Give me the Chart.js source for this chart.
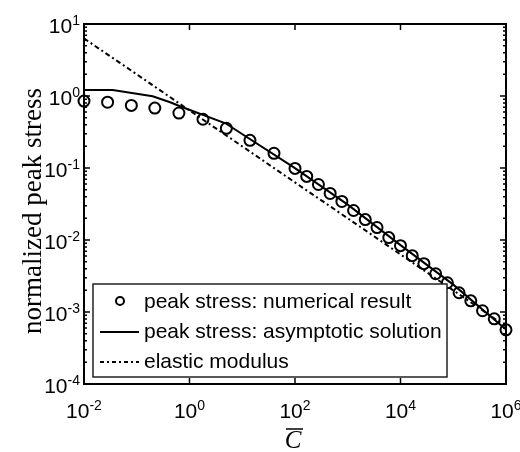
<!DOCTYPE html>
<html>
<head>
<meta charset="utf-8">
<script src="https://cdn.jsdelivr.net/npm/chart.js@4.4.1/dist/chart.umd.min.js"></script>
<style>
  html, body { margin: 0; padding: 0; background: #fff; }
</style>
</head>
<body>
<canvas id="chart" width="520" height="452"></canvas>
<script>
// numerical result (circles)
const cNumerical = [0.01, 0.028, 0.079, 0.22, 0.63, 1.8, 5.0, 14, 40,
  100, 167, 278, 464, 774, 1290, 2150, 3590, 5990,
  10000, 16700, 27800, 46400, 77400, 129000, 215000, 359000, 599000, 1000000];
const stressNumerical = [0.85, 0.82, 0.74, 0.68, 0.58, 0.475, 0.356, 0.242, 0.160,
  0.0987, 0.0764, 0.059, 0.0443, 0.0343, 0.0257, 0.0192, 0.0149, 0.0108,
  0.00835, 0.00606, 0.00469, 0.0034, 0.00255, 0.00185, 0.00143, 0.00104, 0.000804, 0.000565];

// asymptotic solution (solid line)
const cAsymptotic = [0.01, 0.035, 0.2, 0.43, 0.66, 4.8, 95, 1000, 10000, 100000, 1000000];
const stressAsymptotic = [1.21, 1.21, 0.99, 0.82, 0.72, 0.418, 0.102, 0.031, 0.0085, 0.0024, 0.00057];

// elastic modulus (dash-dot line)
const cElastic = [0.01, 0.1, 1, 10, 100, 1000, 10000, 100000, 1000000];
const stressElastic = [6.3, 2.0, 0.63, 0.2, 0.063, 0.02, 0.0063, 0.002, 0.00063];

const xTickExp = [-2, 0, 2, 4, 6];
const yTickExp = [-4, -3, -2, -1, 0, 1];

const legendLabels = ["peak stress: numerical result", "peak stress: asymptotic solution", "elastic modulus"];

const pts = (xs, ys) => xs.map((x, i) => ({ x: x, y: ys[i] }));

function drawPow(ctx, exp, x, base, align) {
  ctx.font = "21px 'Liberation Sans', Arial, sans-serif";
  const w1 = ctx.measureText("10").width;
  ctx.font = "14px 'Liberation Sans', Arial, sans-serif";
  const sup = String(exp);
  const w2 = ctx.measureText(sup).width;
  let start = align === "center" ? x - (w1 + w2) / 2 : x - (w1 + w2);
  ctx.textAlign = "left";
  ctx.textBaseline = "alphabetic";
  ctx.font = "21px 'Liberation Sans', Arial, sans-serif";
  ctx.fillText("10", start, base);
  ctx.font = "14px 'Liberation Sans', Arial, sans-serif";
  ctx.fillText(sup, start + w1, base - 8);
}

const axesPlugin = {
  id: "matlabAxes",
  afterDraw(chart) {
    const ctx = chart.ctx;
    const a = chart.chartArea;
    const xs = chart.scales.x, ys = chart.scales.y;
    ctx.save();
    ctx.fillStyle = "#000";
    ctx.strokeStyle = "#000";

    // ticks
    ctx.lineWidth = 1.5;
    ctx.beginPath();
    xTickExp.forEach(e => {
      const px = xs.getPixelForValue(Math.pow(10, e));
      ctx.moveTo(px, a.bottom); ctx.lineTo(px, a.bottom - 6);
      ctx.moveTo(px, a.top); ctx.lineTo(px, a.top + 6);
    });
    yTickExp.forEach(e => {
      const py = ys.getPixelForValue(Math.pow(10, e));
      ctx.moveTo(a.left, py); ctx.lineTo(a.left + 6, py);
      ctx.moveTo(a.right, py); ctx.lineTo(a.right - 6, py);
      if (e < 1) {
        for (let m = 2; m <= 9; m++) {
          const pm = ys.getPixelForValue(m * Math.pow(10, e));
          ctx.moveTo(a.left, pm); ctx.lineTo(a.left + 3, pm);
          ctx.moveTo(a.right, pm); ctx.lineTo(a.right - 3, pm);
        }
      }
    });
    ctx.stroke();

    // frame
    ctx.lineWidth = 2;
    ctx.strokeRect(a.left, a.top, a.right - a.left, a.bottom - a.top);

    // tick labels
    xTickExp.forEach(e => drawPow(ctx, e, xs.getPixelForValue(Math.pow(10, e)), a.bottom + 34, "center"));
    yTickExp.forEach(e => drawPow(ctx, e, a.left - 4, ys.getPixelForValue(Math.pow(10, e)) + 9, "right"));

    // y title
    ctx.save();
    ctx.translate(34, 211);
    ctx.rotate(-Math.PI / 2);
    ctx.font = "27px 'Liberation Serif', 'Times New Roman', serif";
    ctx.textAlign = "center";
    ctx.textBaseline = "middle";
    ctx.fillText("normalized peak stress", 0, 0);
    ctx.restore();

    // x title: C with overbar
    ctx.font = "italic 25px 'Liberation Serif', 'Times New Roman', serif";
    ctx.textAlign = "center";
    ctx.textBaseline = "alphabetic";
    ctx.fillText("C", 293, 448);
    ctx.lineWidth = 1.5;
    ctx.beginPath();
    ctx.moveTo(286, 429); ctx.lineTo(303, 429);
    ctx.stroke();

    // legend
    const L = { x: 93, y: 284, w: 354, h: 93 };
    ctx.fillStyle = "#fff";
    ctx.fillRect(L.x, L.y, L.w, L.h);
    ctx.strokeStyle = "#222";
    ctx.lineWidth = 1.5;
    ctx.strokeRect(L.x, L.y, L.w, L.h);
    ctx.strokeStyle = "#000";
    ctx.fillStyle = "#000";
    const rows = [302, 332, 362];
    // circle
    ctx.lineWidth = 2;
    ctx.beginPath();
    ctx.arc(120, rows[0] - 1, 4, 0, Math.PI * 2);
    ctx.stroke();
    // solid
    ctx.beginPath();
    ctx.moveTo(100, rows[1]); ctx.lineTo(139, rows[1]);
    ctx.stroke();
    // dash-dot
    ctx.setLineDash([4, 3, 2, 3]);
    ctx.beginPath();
    ctx.moveTo(100, rows[2]); ctx.lineTo(139, rows[2]);
    ctx.stroke();
    ctx.setLineDash([]);
    ctx.font = "21px 'Liberation Sans', Arial, sans-serif";
    ctx.textAlign = "left";
    ctx.textBaseline = "middle";
    legendLabels.forEach((t, i) => ctx.fillText(t, 144, rows[i]));
    ctx.restore();
  }
};

new Chart(document.getElementById("chart").getContext("2d"), {
  type: "scatter",
  data: {
    datasets: [
      {
        label: legendLabels[0],
        data: pts(cNumerical, stressNumerical),
        showLine: false,
        pointStyle: "circle",
        pointRadius: 5.5,
        pointBorderWidth: 2,
        borderColor: "#000",
        backgroundColor: "rgba(0,0,0,0)",
        clip: false
      },
      {
        label: legendLabels[1],
        data: pts(cAsymptotic, stressAsymptotic),
        showLine: true,
        borderColor: "#000",
        borderWidth: 2,
        pointRadius: 0
      },
      {
        label: legendLabels[2],
        data: pts(cElastic, stressElastic),
        showLine: true,
        borderColor: "#000",
        borderWidth: 2,
        borderDash: [5, 3, 2, 3],
        pointRadius: 0
      }
    ]
  },
  options: {
    responsive: false,
    animation: false,
    layout: { padding: { left: 84, right: 14, top: 24, bottom: 68 } },
    plugins: { legend: { display: false }, tooltip: { enabled: false } },
    scales: {
      x: { type: "logarithmic", min: 0.01, max: 1000000, display: false },
      y: { type: "logarithmic", min: 0.0001, max: 10, display: false }
    }
  },
  plugins: [axesPlugin]
});
</script>
</body>
</html>
